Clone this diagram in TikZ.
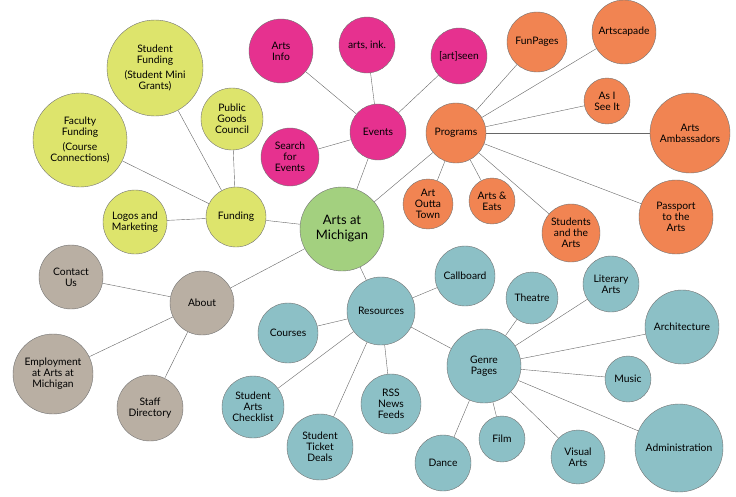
\documentclass[tikz,border=0pt]{standalone}
\usepackage{fontspec}
\setmainfont{Lato}
\usetikzlibrary{backgrounds}
\definecolor{cgreen}{HTML}{A3D07F}
\definecolor{cyellow}{HTML}{DDE46C}
\definecolor{ctaupe}{HTML}{B9AFA3}
\definecolor{cpink}{HTML}{E6318F}
\definecolor{corange}{HTML}{F18452}
\definecolor{cteal}{HTML}{8CC0C6}
\tikzset{
  bub/.style={circle,draw=black!55,thin,minimum size=2*#1 pt,inner sep=0pt,align=center,font=\fontsize{10.3}{11}\selectfont},
  link/.style={draw=black!60,thin}
}
\begin{document}
\begin{tikzpicture}[x=1pt,y=-1pt]
        \useasboundingbox (0,0) rectangle (736,496);

        % hub
        \node[bub=42,fill=cgreen,font=\fontsize{13}{15}\selectfont] (arts) at (342,229) {Arts at\\Michigan};

        % funding group
        \node[bub=30,fill=cyellow] (fund) at (236,217) {Funding};
        \node[bub=48,fill=cyellow] (sfund) at (155,68) {Student\\Funding\\[4pt](Student Mini\\Grants)};
        \node[bub=31,fill=cyellow] (pgc) at (232,119) {Public\\Goods\\Council};
        \node[bub=47,fill=cyellow] (ffund) at (80,140) {Faculty\\Funding\\[4pt](Course\\Connections)};
        \node[bub=32,fill=cyellow] (logo) at (135,222) {Logos and\\Marketing};

        % about group
        \node[bub=32,fill=ctaupe] (about) at (202,303) {About};
        \node[bub=32,fill=ctaupe] (contact) at (71,277) {Contact\\Us};
        \node[bub=40,fill=ctaupe] (employ) at (53,374) {Employment\\at Arts at\\Michigan};
        \node[bub=33,fill=ctaupe] (staff) at (150,408) {Staff\\Directory};

        % events group
        \node[bub=28,fill=cpink] (events) at (378,132) {Events};
        \node[bub=32,fill=cpink] (ainfo) at (281,51) {Arts\\Info};
        \node[bub=28,fill=cpink] (aink) at (367,45) {arts, ink.};
        \node[bub=28,fill=cpink] (aseen) at (459,56) {[art]seen};
        \node[bub=29,fill=cpink] (search) at (290,157) {Search\\for\\Events};

        % programs group
        \node[bub=30,fill=corange] (prog) at (456,133) {Programs};
        \node[bub=30,fill=corange] (funp) at (537,42) {FunPages};
        \node[bub=32,fill=corange] (ascape) at (624,32) {Artscapade};
        \node[bub=23,fill=corange] (asee) at (607,101) {As I\\See It};
        \node[bub=40,fill=corange] (amb) at (690,133) {Arts\\Ambassadors};
        \node[bub=37,fill=corange] (pass) at (676,217) {Passport\\to the\\Arts};
        \node[bub=25,fill=corange] (outta) at (428,204) {Art\\Outta\\Town};
        \node[bub=23,fill=corange] (eats) at (492,201) {Arts \&\\Eats};
        \node[bub=29,fill=corange] (stud) at (571,233) {Students\\and the\\Arts};

        % resources group
        \node[bub=34,fill=cteal] (res) at (381,311) {Resources};
        \node[bub=30,fill=cteal] (call) at (465,276) {Callboard};
        \node[bub=30,fill=cteal] (course) at (288,333) {Courses};
        \node[bub=31,fill=cteal] (check) at (253,407) {Student\\Arts\\Checklist};
        \node[bub=33,fill=cteal] (ticket) at (320,447) {Student\\Ticket\\Deals};
        \node[bub=30,fill=cteal] (rss) at (391,404) {RSS\\News\\Feeds};
        \node[bub=37,fill=cteal] (genre) at (484,366) {Genre\\Pages};
        \node[bub=26,fill=cteal] (theat) at (532,298) {Theatre};
        \node[bub=28,fill=cteal] (lit) at (611,284) {Literary\\Arts};
        \node[bub=37,fill=cteal] (arch) at (682,327) {Architecture};
        \node[bub=23,fill=cteal] (music) at (628,379) {Music};
        \node[bub=44,fill=cteal] (admin) at (679,448) {Administration};
        \node[bub=27,fill=cteal] (vis) at (578,457) {Visual\\Arts};
        \node[bub=23,fill=cteal] (film) at (502,439) {Film};
        \node[bub=28,fill=cteal] (dance) at (443,463) {Dance};

        % connections behind the circles
        \begin{scope}[on background layer]
          \foreach \a/\b in {arts/fund,arts/about,arts/events,arts/prog,arts/res,
            fund/sfund,fund/pgc,fund/ffund,fund/logo,
            about/contact,about/employ,about/staff,
            events/ainfo,events/aink,events/aseen,events/search,
            prog/funp,prog/ascape,prog/asee,prog/amb,prog/pass,prog/outta,prog/eats,prog/stud,
            res/call,res/course,res/check,res/ticket,res/rss,res/genre,
            genre/theat,genre/lit,genre/arch,genre/music,genre/admin,genre/vis,genre/film,genre/dance}
            \draw[link] (\a) -- (\b);
        \end{scope}

      \end{tikzpicture}
\end{document}
